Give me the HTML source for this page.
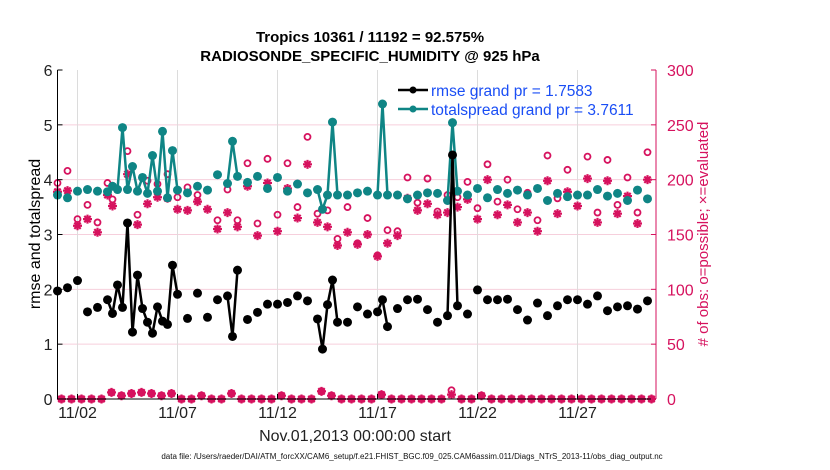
<!DOCTYPE html>
<html><head><meta charset="utf-8"><style>
body{margin:0;background:#fff;}
svg{display:block;font-family:"Liberation Sans",Arial,sans-serif;}
</style></head><body>
<svg id="chart" width="830" height="470" viewBox="0 0 830 470" xmlns="http://www.w3.org/2000/svg">
<rect width="830" height="470" fill="#fff"/>
<text x="370" y="42" text-anchor="middle" font-size="15" font-weight="bold">Tropics 10361 / 11192 = 92.575%</text>
<text x="370" y="61" text-anchor="middle" font-size="15" font-weight="bold">RADIOSONDE_SPECIFIC_HUMIDITY @ 925 hPa</text>
<g id="grid"></g>
<g id="marks"></g>
<g id="axes"></g>
<text transform="translate(40,234) rotate(-90)" text-anchor="middle" font-size="16">rmse and totalspread</text>
<text transform="translate(708,234) rotate(-90)" text-anchor="middle" font-size="15" fill="#d6125e">&#35; of obs: o=possible; &#215;=evaluated</text>
<text x="355" y="441" text-anchor="middle" font-size="16" fill="#222">Nov.01,2013 00:00:00 start</text>
<text x="412" y="459" text-anchor="middle" font-size="8" fill="#111">data file: /Users/raeder/DAI/ATM_forcXX/CAM6_setup/f.e21.FHIST_BGC.f09_025.CAM6assim.011/Diags_NTrS_2013-11/obs_diag_output.nc</text>
<g>
<line x1="398" y1="90" x2="428" y2="90" stroke="#000" stroke-width="2.5"/><circle cx="413" cy="90" r="3.5" fill="#000"/>
<text x="431" y="96" font-size="15.5" fill="#1a4ef5">rmse grand pr = 1.7583</text>
<line x1="398" y1="109" x2="428" y2="109" stroke="#0f8585" stroke-width="2.5"/><circle cx="413" cy="109" r="3.5" fill="#0f8585"/>
<text x="431" y="115" font-size="15.5" fill="#1a4ef5">totalspread grand pr = 3.7611</text>
</g>
</svg>
<script>
// slot index = 6-hourly step from Nov 01 00:00
const slots=[0,2,4,6,8,10,11,12,13,14,15,16,17,18,19,20,21,22,23,24,26,28,30,32,34,35,36,38,40,42,44,46,48,50,52,53,54,55,56,58,60,62,64,65,66,68,70,72,74,76,78,79,80,82,84,86,88,90,92,94,96,98,100,102,104,106,108,110,112,114,116,118];
const rmse=[1.97,2.03,2.16,1.59,1.67,1.81,1.56,2.08,1.67,3.21,1.22,2.26,1.65,1.40,1.20,1.68,1.42,1.36,2.44,1.91,1.47,1.93,1.49,1.81,1.88,1.14,2.35,1.45,1.58,1.73,1.73,1.76,1.88,1.79,1.46,0.91,1.72,2.17,1.40,1.40,1.68,1.55,1.59,1.81,1.32,1.65,1.81,1.82,1.63,1.40,1.52,4.45,1.70,1.55,1.99,1.81,1.81,1.82,1.63,1.44,1.75,1.52,1.70,1.81,1.81,1.73,1.88,1.61,1.68,1.70,1.64,1.79];
const spread=[3.72,3.67,3.79,3.82,3.79,3.78,3.88,3.82,4.95,3.82,4.24,3.79,4.04,3.75,4.44,3.79,4.88,3.67,4.53,3.81,3.76,3.88,3.81,4.09,3.93,4.70,4.06,3.95,4.06,3.84,4.04,3.79,3.92,3.76,3.82,3.46,3.72,5.05,3.72,3.72,3.76,3.79,3.72,5.38,3.72,3.72,3.65,3.72,3.76,3.75,3.62,5.04,3.79,3.72,3.84,3.67,3.82,3.75,3.81,3.72,3.84,3.62,3.75,3.69,3.72,3.72,3.82,3.70,3.75,3.62,3.81,3.65];
const obsSlots=[0,2,4,6,8,10,11,14,16,18,20,22,24,26,28,30,32,34,36,38,40,42,44,46,48,50,52,54,56,58,60,62,64,66,68,70,72,74,76,78,80,82,84,86,88,90,92,94,96,98,100,102,104,106,108,110,112,114,116,118];
const possible=[197,208,164,177,161,197,182,226,168,199,196,205,184,193,186,190,163,191,163,215,160,219,168,215,175,239,169,172,146,175,142,165,131,154,153,202,179,201,171,186,184,198,174,214,180,200,173,188,163,222,183,209,186,221,170,218,177,202,170,225];
const evaluated=[189,190,158,164,152,186,176,205,159,178,184,183,173,172,180,173,155,170,157,194,149,197,153,192,165,214,161,157,140,152,141,150,130,142,149,183,172,178,168,170,175,182,164,200,168,177,161,170,153,199,169,189,176,201,161,199,169,185,160,200];
// off-hour counts (12-hourly, offset)
const lowPossible=[0,0,0,0,0,6,3,5,6,5,3,5,0,0,3,0,0,5,0,0,0,0,3,0,0,0,7,3,0,0,0,0,4,0,0,0,0,0,0,8,0,0,3,0,0,0,0,0,0,0,0,0,0,0,0,0,0,0,0,0];
const lowEvaluated=[0,0,0,0,0,6,3,5,6,5,3,5,0,0,3,0,0,5,0,0,0,0,3,0,0,0,7,3,0,0,0,0,4,0,0,0,0,0,0,4,0,0,3,0,0,0,0,0,0,0,0,0,0,0,0,0,0,0,0,0];
const leftTicks=[0,1,2,3,4,5,6];
const rightTicks=[0,50,100,150,200,250,300];
const xTickDays=[1,6,11,16,21,26];
const xTickLabels=['11/02','11/07','11/12','11/17','11/22','11/27'];

const NS='http://www.w3.org/2000/svg';
const X0=57.5,X1=656,Y0=399,Y1=70;
const xDay=d=>57.5+20*d;
const xSlot=s=>xDay(s*0.25);
const yL=v=>Y0-(v/6)*(Y0-Y1);
const yR=o=>Y0-(o/300)*(Y0-Y1);
const RED='#d6125e',TEAL='#0f8585';
function mk(parent,tag,attrs){const e=document.createElementNS(NS,tag);for(const k in attrs)e.setAttribute(k,attrs[k]);parent.appendChild(e);return e;}
const grid=document.getElementById('grid'),marks=document.getElementById('marks'),axes=document.getElementById('axes');

leftTicks.forEach(v=>{if(v>0&&v<6){const l=mk(grid,'line',{x1:X0,x2:X1,y1:yL(v),y2:yL(v),stroke:'#f6cfdc','stroke-width':1});

}});
xTickDays.forEach(d=>{const l=mk(grid,'line',{x1:xDay(d),x2:xDay(d),y1:Y1,y2:Y0,stroke:'#dcdcdc','stroke-width':1});

});

function series(vals,sl,color,name){
  let d='';
  for(let i=0;i<vals.length;i++){const x=xSlot(sl[i]),y=yL(vals[i]);
    if(i>0&&sl[i]-sl[i-1]===1)d+='L'+x+' '+y;else d+='M'+x+' '+y;}
  const p=mk(marks,'path',{d:d,fill:'none',stroke:color,'stroke-width':2.5,'stroke-linejoin':'round'});
  
  
  vals.forEach((v,i)=>{const c=mk(marks,'circle',{cx:xSlot(sl[i]),cy:yL(v),r:4.5,fill:color});
    
    });
}
function circ(x,y){const c=mk(marks,'circle',{cx:x,cy:y,r:3,fill:'none',stroke:RED,'stroke-width':1.8});
  
  }
function star(x,y){const r=4.5,a=r*0.707;
  const p=mk(marks,'path',{d:`M${x-r} ${y}H${x+r}M${x} ${y-r}V${y+r}M${x-a} ${y-a}L${x+a} ${y+a}M${x-a} ${y+a}L${x+a} ${y-a}`,stroke:RED,'stroke-width':2.2,fill:'none'});
  
  }
possible.forEach((o,i)=>circ(xSlot(obsSlots[i]),yR(o)));
evaluated.forEach((o,i)=>star(xSlot(obsSlots[i]),yR(o)));
lowPossible.forEach((o,i)=>circ(xDay(0.2+0.5*i),yR(o)));
lowEvaluated.forEach((o,i)=>{const x=xDay(0.2+0.5*i),y=yR(o);star(x,y);
  const c=mk(marks,'circle',{cx:x,cy:y,r:3.2,fill:RED});
  
  });
series(spread,slots,TEAL,'totalspread');
series(rmse,slots,'#000','rmse');

// axes
mk(axes,'line',{x1:X0,x2:X0,y1:Y1,y2:Y0,stroke:'#000','stroke-width':1});
mk(axes,'line',{x1:X0,x2:X1,y1:Y0,y2:Y0,stroke:'#000','stroke-width':1});
mk(axes,'line',{x1:X1,x2:X1,y1:Y1,y2:Y0,stroke:RED,'stroke-width':1});
leftTicks.forEach(v=>{mk(axes,'line',{x1:X0,x2:X0+5,y1:yL(v),y2:yL(v),stroke:'#000'});
  const t=mk(axes,'text',{x:X0-5,y:yL(v)+6,'text-anchor':'end','font-size':16,fill:'#222'});t.textContent=v;
  
  });
rightTicks.forEach(o=>{mk(axes,'line',{x1:X1-5,x2:X1,y1:yR(o),y2:yR(o),stroke:RED});
  const t=mk(axes,'text',{x:X1+11,y:yR(o)+6,'font-size':16,fill:RED});t.textContent=o;
  
  });
xTickDays.forEach((d,i)=>{mk(axes,'line',{x1:xDay(d),x2:xDay(d),y1:Y0,y2:Y0-5,stroke:'#000'});
  const t=mk(axes,'text',{x:xDay(d),y:418,'text-anchor':'middle','font-size':16,fill:'#222'});t.textContent=xTickLabels[i];
  
  });
</script>
</body></html>
